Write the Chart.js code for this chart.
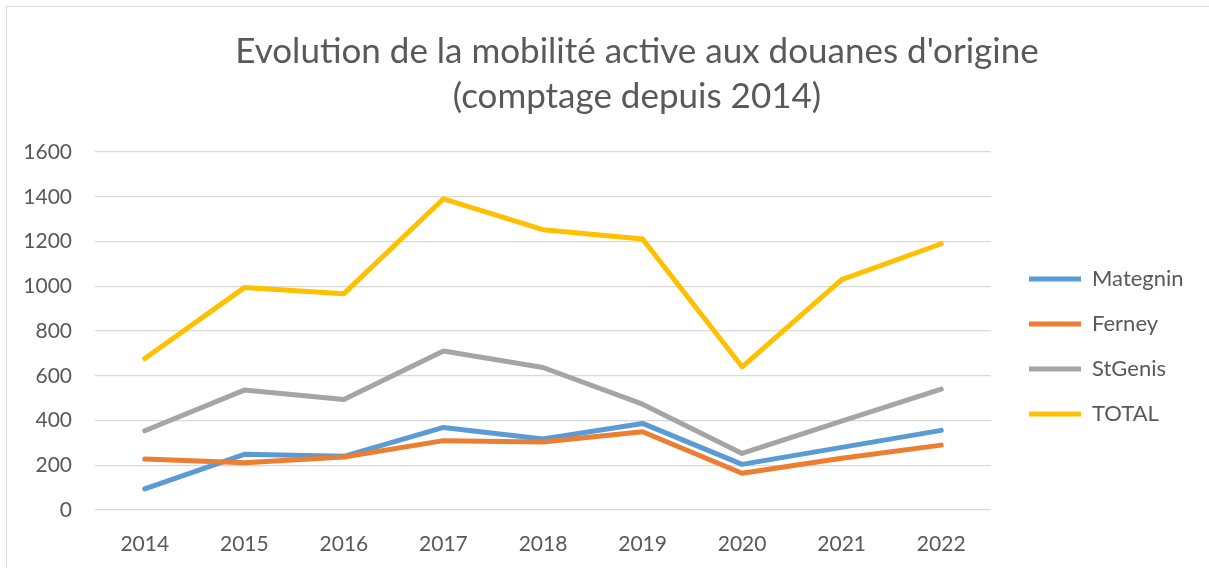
<!DOCTYPE html>
<html>
<head>
<meta charset="utf-8">
<script src="https://cdn.jsdelivr.net/npm/chart.js@4.4.1/dist/chart.umd.min.js"></script>
<style>
  html, body { margin: 0; padding: 0; background: #fff; overflow: hidden; }
  #wrap { position: relative; width: 1209px; height: 568px; }
  #cadre { position: absolute; left: 6px; top: 6px; width: 1300px; height: 700px;
           border: 1.5px solid #d9d9d9; pointer-events: none; }
</style>
</head>
<body>
<div id="wrap">
  <canvas id="graphique" width="1209" height="568"></canvas>
  <div id="cadre"></div>
</div>
<script>
// Données
const annees = ['2014', '2015', '2016', '2017', '2018', '2019', '2020', '2021', '2022'];
const mategnin = [94, 249, 240, 369, 317, 387, 204, 280, 356];
const ferney = [228, 211, 237, 310, 304, 350, 164, 231, 290];
const stgenis = [354, 536, 494, 711, 637, 473, 253, 397, 540];
const total = [677, 994, 967, 1391, 1253, 1211, 640, 1030, 1190];
const nomsSeries = ['Mategnin', 'Ferney', 'StGenis', 'TOTAL'];
const couleurs = ['#5B9BD5', '#ED7D31', '#A5A5A5', '#FFC000'];
const titre = ["Evolution de la mobilité active aux douanes d'origine", '(comptage depuis 2014)'];

const texte = '#595959';
const police = 'Lato, sans-serif';

// largeur de la légende pour caler la zone de tracé
const mesure = document.createElement('canvas').getContext('2d');
mesure.font = '22px Lato';
const texteLegende = Math.max(...nomsSeries.map(n => mesure.measureText(n).width));
const largeurLegende = 23 + 52 + 11 + texteLegende + 10;
const padDroite = Math.max(0, 1209 - 1006 - largeurLegende);

const valeurs = [mategnin, ferney, stgenis, total];

// titre centré comme dans Excel (un peu à droite du centre du cadre)
const pluginTitre = {
    id: 'titreDecale',
    afterDraw(chart) {
        const c = chart.ctx;
        c.save();
        c.font = '35px ' + police;
        c.fillStyle = texte;
        c.textAlign = 'center';
        c.textBaseline = 'middle';
        titre.forEach((ligne, i) => c.fillText(ligne, 637, 52 + i * 45));
        c.restore();
    }
};

const ctx = document.getElementById('graphique').getContext('2d');

new Chart(ctx, {
    type: 'line',
    data: {
        labels: annees,
        datasets: valeurs.map((v, i) => ({
            label: nomsSeries[i],
            data: v,
            borderColor: couleurs[i],
            backgroundColor: couleurs[i],
            borderWidth: 5,
            borderCapStyle: 'round',
            borderJoinStyle: 'round',
            pointRadius: 0,
            tension: 0,
            order: valeurs.length - i // les dernières séries par-dessus
        }))
    },
    plugins: [pluginTitre],
    options: {
        responsive: false,
        animation: false,
        layout: {
            padding: { left: 0, right: padDroite, top: 152, bottom: 0 }
        },
        plugins: {
            title: { display: false },
            legend: {
                position: 'right',
                fullSize: false,
                title: { display: true, text: ' ', font: { size: 11, lineHeight: 1 }, padding: { top: 10, bottom: 10 } },
                labels: {
                    usePointStyle: true,
                    pointStyle: 'line',
                    pointStyleWidth: 52,
                    boxWidth: 52,
                    padding: 23,
                    color: texte,
                    font: { family: police, size: 22 },
                    sort: (a, b) => a.datasetIndex - b.datasetIndex
                }
            },
            tooltip: { enabled: false }
        },
        scales: {
            x: {
                offset: true,
                grid: { display: false },
                border: { display: false },
                ticks: {
                    color: texte,
                    font: { family: police, size: 21 },
                    padding: 14,
                    maxRotation: 0
                },
                afterFit: (s) => { s.height = 58; }
            },
            y: {
                min: 0,
                max: 1600,
                ticks: {
                    stepSize: 200,
                    color: texte,
                    font: { family: police, size: 21 },
                    padding: 23,
                    callback: (v) => String(v)
                },
                grid: { color: '#d9d9d9', lineWidth: 1.25, drawTicks: false },
                border: { display: false },
                afterFit: (s) => { s.width = 95; }
            },
            // axe vide : simple écart entre la zone de tracé et la légende
            ecart: {
                position: 'right',
                display: true,
                grid: { display: false },
                border: { display: false },
                ticks: { display: false },
                afterFit: (s) => { s.width = 15; }
            }
        }
    }
});
</script>
</body>
</html>
